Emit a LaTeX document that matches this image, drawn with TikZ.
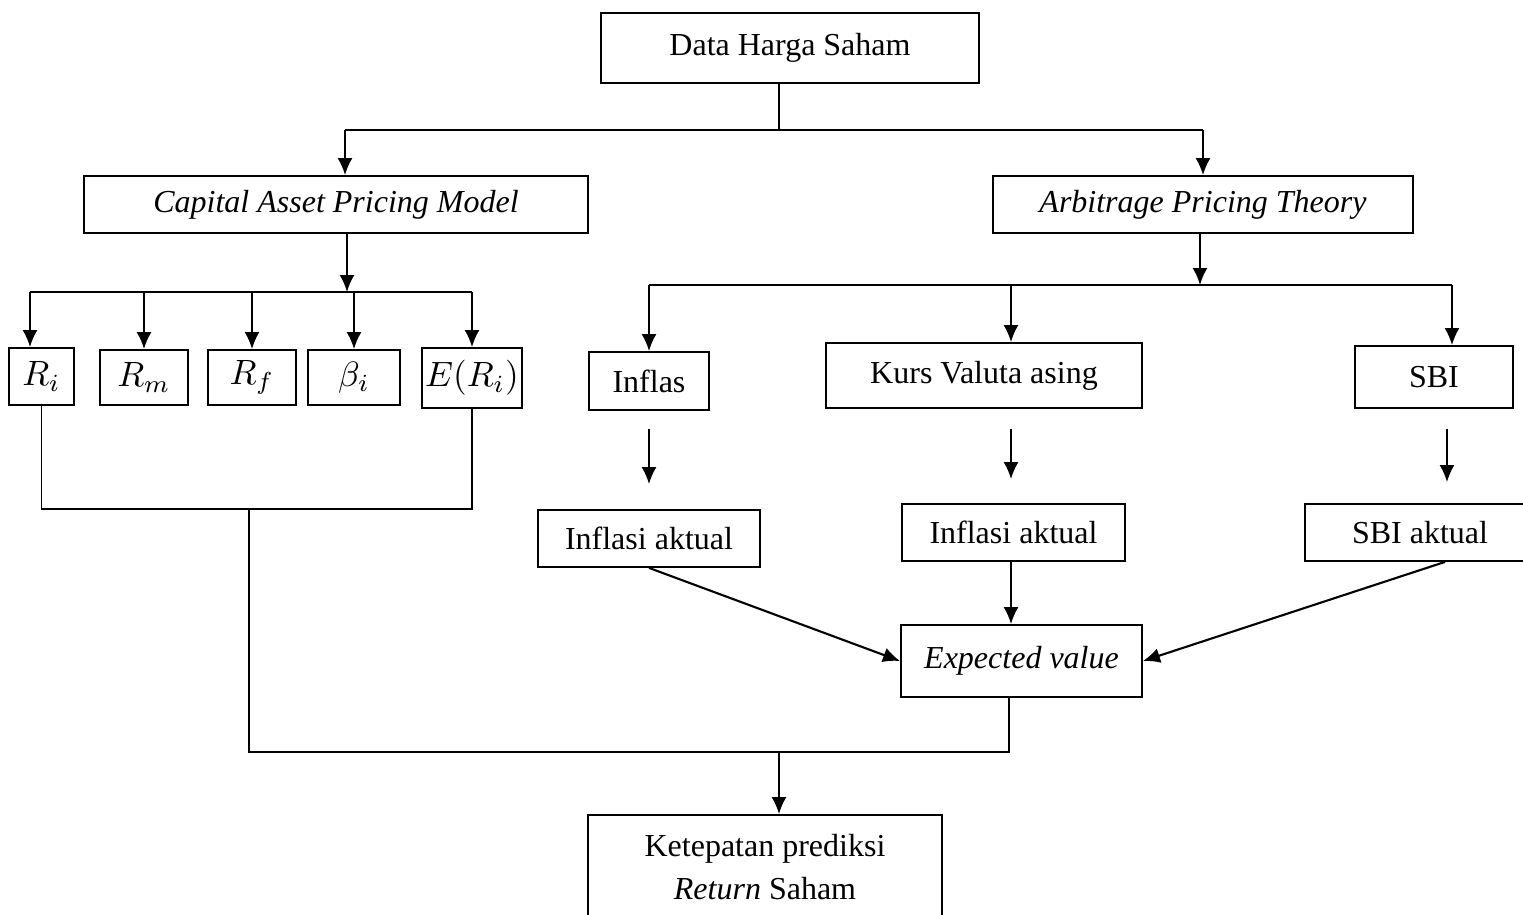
\documentclass[tikz,border=0pt]{standalone}
\usepackage{fontspec}
\setmainfont{Liberation Serif}
\usetikzlibrary{arrows.meta,calc}

\tikzset{
  box/.style={draw, line width=0.5pt, inner sep=1pt, align=center, font=\fontsize{9.1}{12}\selectfont},
  varbox/.style={box, inner sep=0pt, font=\fontsize{9.8}{12}\selectfont},
  arr/.style={-{Latex[length=0.17cm,width=0.15cm]}, line width=0.6pt},
  link/.style={line width=0.5pt}
}

\begin{document}
\begin{tikzpicture}[x=0.01cm, y=-0.01cm]
        \useasboundingbox (0,0) rectangle (1523,914);

        \node[box, minimum width=3.78cm, minimum height=0.70cm] (data) at (790,48) {Data Harga Saham};
        \node[box, minimum width=5.04cm, minimum height=0.57cm] (capm) at (336,204.5) {\textit{Capital Asset Pricing Model}};
        \node[box, minimum width=4.20cm, minimum height=0.57cm] (apt) at (1203,204.5) {\textit{Arbitrage Pricing Theory}};

        % CAPM variables
        \node[varbox, minimum width=0.65cm, minimum height=0.57cm] (ri) at (41.5,376.5) {$R_i$};
        \node[varbox, minimum width=0.88cm, minimum height=0.55cm] (rm) at (144,377.5) {$R_m$};
        \node[varbox, minimum width=0.88cm, minimum height=0.55cm] (rf) at (252,377.5) {$R_f$};
        \node[varbox, minimum width=0.92cm, minimum height=0.55cm] (beta) at (354,377.5) {$\beta_i$};
        \node[varbox, minimum width=1.00cm, minimum height=0.60cm] (eri) at (472,378) {$E(R_i)$};

        % APT factors
        \node[box, minimum width=1.20cm, minimum height=0.58cm] (inflas) at (649,381) {Inflas};
        \node[box, minimum width=3.16cm, minimum height=0.65cm] (kurs) at (984,375.5) {Kurs Valuta asing};
        \node[box, minimum width=1.58cm, minimum height=0.62cm] (sbi) at (1434,377) {SBI};

        \node[box, minimum width=2.22cm, minimum height=0.57cm] (aktA) at (649,538.5) {Inflasi aktual};
        \node[box, minimum width=2.23cm, minimum height=0.57cm] (aktB) at (1013.5,532.5) {Inflasi aktual};
        \node[box, minimum width=2.30cm, minimum height=0.57cm] (aktC) at (1420,532.5) {SBI aktual};

        \node[box, minimum width=2.41cm, minimum height=0.72cm] (expv) at (1021.5,661) {\textit{Expected value}};
        \node[box, minimum width=3.54cm, minimum height=1.04cm] (result) at (765,867) {Ketepatan prediksi\\\textit{Return} Saham};

        \coordinate (busA) at (779,130);
        \coordinate (capmDrop) at (345,130);
        \coordinate (busB) at (347,292);
        \coordinate (riDrop) at (30,292);
        \coordinate (busC) at (1200,285);
        \coordinate (kursDrop) at (1011,285);
        \coordinate (sbiDrop) at (1452,285);
        \coordinate (sbiGap) at (1447,0);
        \coordinate (joinL) at (249,509);
        \coordinate (joinR) at (1009,752);
        \coordinate (joinB) at (779,752);

        % top split
        \draw[link] (busA |- data.south) -- (busA);
        \draw[link] (capmDrop) -- (busA -| apt.north);
        \draw[arr] (capmDrop) -- (capmDrop |- capm.north);
        \draw[arr] (busA -| apt.north) -- (apt.north);

        % CAPM branch
        \draw[arr] (busB |- capm.south) -- (busB);
        \draw[link] (riDrop) -- (eri.north |- busB);
        \draw[arr] (riDrop) -- (riDrop |- ri.north);
        \foreach \n in {rm,rf,beta,eri}
            \draw[arr] (\n.north |- busB) -- (\n.north);

        % APT branch
        \draw[arr] (busC |- apt.south) -- (busC);
        \draw[link] (inflas.north |- busC) -- (sbiDrop);
        \draw[arr] (inflas.north |- busC) -- (inflas.north);
        \draw[arr] (kursDrop) -- (kursDrop |- kurs.north);
        \draw[arr] (sbiDrop) -- (sbiDrop |- sbi.north);

        \draw[arr, shorten <=0.18cm, shorten >=0.25cm] (inflas.south) -- (inflas.south |- aktA.north);
        \draw[arr, shorten <=0.20cm, shorten >=0.24cm] (kursDrop |- kurs.south) -- (kursDrop |- aktB.north);
        \draw[arr, shorten <=0.20cm, shorten >=0.21cm] (sbiGap |- sbi.south) -- (sbiGap |- aktC.north);

        \draw[arr] (aktA.south) -- (expv.west);
        \draw[arr] (kursDrop |- aktB.south) -- (kursDrop |- expv.north);
        \draw[arr] ($(aktC.south)+(25,0)$) -- (expv.east);

        % joining to result
        \draw[link] (ri.south) |- (joinL) -| (eri.south);
        \draw[link] (joinL) |- (joinR) -- (joinR |- expv.south);
        \draw[arr] (joinB) -- (joinB |- result.north);
\end{tikzpicture}
\end{document}
